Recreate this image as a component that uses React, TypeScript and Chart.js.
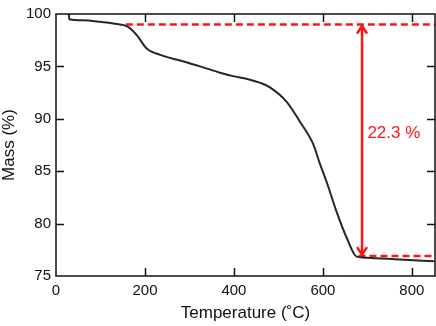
import React, { useEffect, useRef } from "react";
import { Chart, registerables } from "chart.js";

Chart.register(...registerables);

const temperature = [29, 30, 60, 99, 144, 162, 182, 204, 234, 279, 324, 369, 398, 430, 458, 481, 519, 548, 578, 593, 609, 631, 654, 676, 698, 773, 850];
const mass = [100, 99.5, 99.4, 99.26, 99.0, 98.77, 97.96, 96.7, 96.1, 95.56, 95.0, 94.4, 94.07, 93.8, 93.45, 93.0, 91.6, 89.75, 87.6, 85.74, 83.9, 81.1, 78.6, 76.85, 76.75, 76.57, 76.4];

const upperLevel = 99.0;
const lowerLevel = 76.9;
const upperStart = 157;
const lowerStart = 680;
const lineEnd = 852;
const arrowX = 688;
const lossLabel = "22.3 %";
const labelPos = { x: 700, y: 88.6 };

const xTicks = [0, 200, 400, 600, 800];
const yTicks = [75, 80, 85, 90, 95, 100];

const RED = "#ff1414";
const FONT = "'Liberation Sans', Arial, Helvetica, sans-serif";

const framePlugin = {
  id: "frame",
  afterDatasetsDraw(chart: any) {
    const { ctx, chartArea: a, scales } = chart;
    const xs = scales.x, ys = scales.y;
    ctx.save();
    ctx.strokeStyle = "#111";
    ctx.lineWidth = 1.5;
    ctx.strokeRect(a.left, a.top, a.right - a.left, a.bottom - a.top);
    const L = 8;
    ctx.beginPath();
    xTicks.forEach((v) => {
      const px = Math.round(xs.getPixelForValue(v)) + 0.5;
      if (px <= a.left + 1 || px >= a.right - 1) return;
      ctx.moveTo(px, a.bottom); ctx.lineTo(px, a.bottom - L);
      ctx.moveTo(px, a.top); ctx.lineTo(px, a.top + L);
    });
    yTicks.forEach((v) => {
      const py = Math.round(ys.getPixelForValue(v)) + 0.5;
      if (py <= a.top + 1 || py >= a.bottom - 1) return;
      ctx.moveTo(a.left, py); ctx.lineTo(a.left + L, py);
      ctx.moveTo(a.right, py); ctx.lineTo(a.right - L, py);
    });
    ctx.stroke();

    // arrow heads
    const ax = xs.getPixelForValue(arrowX);
    const yTop = ys.getPixelForValue(upperLevel);
    const yBot = ys.getPixelForValue(lowerLevel);
    ctx.strokeStyle = RED;
    ctx.lineWidth = 2.5;
    ctx.lineJoin = "miter";
    ctx.beginPath();
    ctx.moveTo(ax - 5, yTop + 9); ctx.lineTo(ax, yTop + 1.5); ctx.lineTo(ax + 5, yTop + 9);
    ctx.moveTo(ax - 5, yBot - 9); ctx.lineTo(ax, yBot - 1.5); ctx.lineTo(ax + 5, yBot - 9);
    ctx.stroke();

    ctx.fillStyle = RED;
    ctx.font = `17px ${FONT}`;
    ctx.textAlign = "left";
    ctx.textBaseline = "middle";
    ctx.fillText(lossLabel, xs.getPixelForValue(labelPos.x), ys.getPixelForValue(labelPos.y));
    ctx.restore();
  },
};

export default function App() {
  const ref = useRef<HTMLCanvasElement>(null);
  useEffect(() => {
    document.body.style.margin = "0";
    const chart = new Chart(ref.current!, {
      type: "line",
      data: {
        datasets: [
          {
            data: temperature.map((t, i) => ({ x: t, y: mass[i] })),
            borderColor: "#262626",
            borderWidth: 2,
            pointRadius: 0,
            cubicInterpolationMode: "monotone",
          },
          {
            data: [{ x: upperStart, y: upperLevel }, { x: lineEnd, y: upperLevel }],
            borderColor: RED,
            borderWidth: 2.5,
            borderDash: [7, 4],
            pointRadius: 0,
          },
          {
            data: [{ x: lowerStart, y: lowerLevel }, { x: lineEnd, y: lowerLevel }],
            borderColor: RED,
            borderWidth: 2.5,
            borderDash: [7, 4],
            pointRadius: 0,
          },
          {
            data: [{ x: arrowX, y: upperLevel }, { x: arrowX, y: lowerLevel }],
            borderColor: RED,
            borderWidth: 2.5,
            pointRadius: 0,
          },
        ],
      },
      options: {
        animation: false,
        responsive: false,
        layout: { padding: { top: 6, right: 1, left: 0, bottom: 0 } },
        plugins: { legend: { display: false }, tooltip: { enabled: false } },
        scales: {
          x: {
            type: "linear",
            min: 0,
            max: 852,
            afterBuildTicks: (s: any) => { s.ticks = xTicks.map((v) => ({ value: v })); },
            afterFit: (s: any) => { s.height = 50; },
            grid: { display: false, drawTicks: false },
            border: { display: false },
            ticks: { color: "#111", font: { family: FONT, size: 15 }, padding: 6, maxRotation: 0, autoSkip: false },
            title: { display: true, text: "Temperature (˚C)", color: "#111", font: { family: FONT, size: 17 }, padding: { top: 0, bottom: 2 } },
          },
          y: {
            min: 75,
            max: 100,
            afterBuildTicks: (s: any) => { s.ticks = yTicks.map((v) => ({ value: v })); },
            afterFit: (s: any) => { s.width = 56; },
            grid: { display: false, drawTicks: false },
            border: { display: false },
            ticks: { color: "#111", font: { family: FONT, size: 15 }, padding: 5, autoSkip: false },
            title: { display: true, text: "Mass (%)", color: "#111", font: { family: FONT, size: 17 }, padding: { top: -1, bottom: 0 } },
          },
        },
      },
      plugins: [framePlugin],
    } as any);
    return () => chart.destroy();
  }, []);
  return (
    <div style={{ position: "absolute", left: 0, top: 0, width: 436, height: 326 }}>
      <canvas ref={ref} width={436} height={326} style={{ width: 436, height: 326 }} />
    </div>
  );
}
